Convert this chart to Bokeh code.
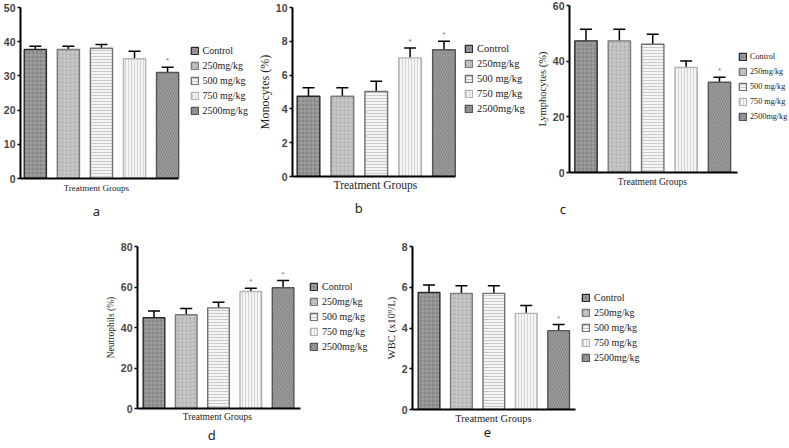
from bokeh.plotting import figure
from bokeh.layouts import column, row
from bokeh.models import (ColumnDataSource, Range1d, Whisker, TeeHead, Legend,
                          LegendItem, Title, FixedTicker, Spacer)
from bokeh.embed import file_html
from bokeh.resources import INLINE
from bokeh.core.properties import value, field

# ---------------- data ----------------
groups = ["Control", "250mg/kg", "500 mg/kg", "750 mg/kg", "2500mg/kg"]
x_label = "Treatment Groups"

a_mean = [37.7, 37.7, 38.1, 35.0, 31.0]
a_err = [1.0, 1.0, 1.1, 2.2, 1.5]
a_sig = [0, 0, 0, 0, 1]
a_ticks = [0, 10, 20, 30, 40, 50]
a_ylabel = ""

b_mean = [4.75, 4.75, 5.03, 7.02, 7.5]
b_err = [0.5, 0.5, 0.6, 0.58, 0.5]
b_sig = [0, 0, 0, 1, 1]
b_ticks = [0, 2, 4, 6, 8, 10]
b_ylabel = "Monocytes (%)"

c_mean = [47.3, 47.3, 46.1, 37.7, 32.4]
c_err = [4.2, 4.2, 3.6, 2.4, 1.8]
c_sig = [0, 0, 0, 0, 1]
c_ticks = [0, 20, 40, 60]
c_ylabel = "Lymphocytes (%)"

d_mean = [44.8, 46.3, 49.7, 57.8, 59.6]
d_err = [3.3, 3.1, 2.8, 1.6, 3.6]
d_sig = [0, 0, 0, 1, 1]
d_ticks = [0, 20, 40, 60, 80]
d_ylabel = "Neutrophils (%)"

e_mean = [5.74, 5.7, 5.7, 4.72, 3.87]
e_err = [0.37, 0.37, 0.37, 0.38, 0.3]
e_sig = [0, 0, 0, 0, 1]
e_ticks = [0, 2, 4, 6, 8]
e_ylabel = "WBC (x10\u2079/L)"

# ---------------- styles ----------------
fills = ["#868686", "#c4c4c4", "#f4f4f4", "#f5f5f5", "#9e9e9e"]
hatches = ["cross", "dot", "horizontal_line", "vertical_line", "right_diagonal_line"]
hatch_cols = ["#a4a4a4", "#a8a8a8", "#cacaca", "#d4d4d4", "#808080"]
hatch_scales = [4, 4, 3, 3, 5]
outlines = ["#2a2a2a", "#7a7a7a", "#707070", "#b4b4b4", "#555555"]

SERIF = "Liberation Serif"
SANS = "Liberation Sans"

TOP_ROW = (0, 236)
BOT_ROW = (236, 448)


def panel(mean, err, sig, ticks, ylabel, ylab_size, ylab_standoff, xlab_px,
          letter, fig_x, frame_x, row_y, frame_y, xr, leg_left, leg_first,
          leg_last, leg_font, tg_x, letter_x, s1, s2, leg_standoff=4):
    W = fig_x[1] - fig_x[0]
    H = row_y[1] - row_y[0]
    axis_px = frame_x[1] - frame_x[0]
    ppx = axis_px / (xr[1] - xr[0])
    x_end = xr[1] + (fig_x[1] - frame_x[1]) / ppx
    p = figure(width=W, height=H, output_backend="svg", toolbar_location=None,
               x_range=Range1d(xr[0], x_end),
               y_range=Range1d(ticks[0], ticks[-1]),
               min_border_left=frame_x[0] - fig_x[0],
               min_border_right=0,
               min_border_top=frame_y[0] - row_y[0],
               min_border_bottom=row_y[1] - frame_y[1])
    p.outline_line_color = None
    p.xgrid.visible = False
    p.ygrid.visible = False
    p.background_fill_color = "white"
    p.border_fill_color = "white"

    xs = list(range(1, len(groups) + 1))
    upper = [m + e for m, e in zip(mean, err)]
    src = ColumnDataSource(dict(x=xs, top=mean, upper=upper, fill=fills,
                                hatch=hatches, hc=hatch_cols, hs=hatch_scales,
                                line=outlines, label=groups))
    r = p.vbar(x="x", top="top", bottom=0, width=0.67, source=src,
               fill_color="fill", hatch_pattern=field("hatch"),
               hatch_color="hc", hatch_scale="hs", hatch_weight=1,
               line_color="line", line_width=1.4)

    wh = Whisker(source=src, base="x", upper="upper", lower="top",
                 dimension="height", line_color="black", line_width=1.5,
                 upper_head=TeeHead(size=12, line_color="black", line_width=1.5),
                 lower_head=None)
    p.add_layout(wh)

    sx = [x for x, s in zip(xs, sig) if s]
    sy = [u for u, s in zip(upper, sig) if s]
    if sx:
        p.text(x=sx, y=sy, text=["*"] * len(sx), text_align="center",
               text_baseline="bottom", y_offset=-2, text_font_size="8px",
               text_color="#777777", text_font=value(SANS))

    # axes
    p.yaxis.ticker = FixedTicker(ticks=ticks)
    p.yaxis.axis_line_width = 2
    p.yaxis.axis_line_color = "black"
    p.yaxis.major_tick_out = 3
    p.yaxis.major_tick_in = 0
    p.yaxis.major_tick_line_width = 1.5
    p.yaxis.minor_tick_line_color = None
    p.yaxis.major_label_text_font = SANS
    p.yaxis.major_label_text_font_style = "bold"
    p.yaxis.major_label_text_font_size = "10.5px"
    p.yaxis.major_label_standoff = 2
    if ylabel:
        p.yaxis.axis_label = ylabel
        p.yaxis.axis_label_text_font = SERIF
        p.yaxis.axis_label_text_font_style = "normal"
        p.yaxis.axis_label_text_font_size = ylab_size
        p.yaxis.axis_label_standoff = ylab_standoff
        p.yaxis.axis_label_text_color = "#222222"

    p.xaxis.bounds = (xr[0], xr[1])
    p.xaxis.ticker = FixedTicker(ticks=[])
    p.xaxis.axis_line_width = 2
    p.xaxis.axis_line_color = "black"
    p.xaxis.major_tick_out = 0
    p.xaxis.major_tick_in = 0
    p.xaxis.minor_tick_line_color = None
    p.xaxis.major_label_standoff = 0
    p.xaxis.major_label_text_font_size = "0px"

    # x-axis caption, centred under the axis span
    tg_w = 7.3 * xlab_px
    t1 = Title(text=x_label, align="left",
               offset=tg_x - frame_x[0] - tg_w / 2.0,
               text_font=SERIF, text_font_size=f"{xlab_px}px",
               text_font_style="normal", text_color="#222222", standoff=s1)
    p.add_layout(t1, "below")

    # legend (inside the extended frame, right of the bars)
    item_h = 12
    pitch = (leg_last - leg_first) / 4.0
    items = [LegendItem(label=g, renderers=[r], index=i) for i, g in enumerate(groups)]
    dx = leg_left - frame_x[0]
    dy = frame_y[1] - leg_last - item_h / 2.0
    leg = Legend(items=items, location=(dx, dy), glyph_width=9, glyph_height=9,
                 label_height=item_h, label_standoff=leg_standoff,
                 spacing=max(0, int(round(pitch - item_h))), padding=0, margin=0,
                 border_line_color=None, background_fill_alpha=0,
                 label_text_font=SERIF, label_text_font_size=leg_font,
                 label_text_color="#222222")
    p.add_layout(leg)

    # panel letter
    t2 = Title(text=letter, align="left", offset=letter_x - frame_x[0] - 3.8,
               text_font="Noto Sans", text_font_size="13px",
               text_font_style="normal", text_color="#222222", standoff=s2)
    p.add_layout(t2, "below")
    return p


pa = panel(a_mean, a_err, a_sig, a_ticks, a_ylabel, "11px", 3, 9, "a",
           (0, 250), (17, 177), TOP_ROW, (7, 178), (0.552, 5.328),
           186.5, 50, 110, "10px", 93, 93, 5, 9)
pb = panel(b_mean, b_err, b_sig, b_ticks, b_ylabel, "12px", 1, 11.5, "b",
           (250, 526), (292, 455), TOP_ROW, (7, 176), (0.528, 5.34),
           464, 47, 108, "10.5px", 375, 358, 1, 10)
pc = panel(c_mean, c_err, c_sig, c_ticks, c_ylabel, "10.5px", 2, 9.5, "c",
           (526, 789), (569, 737), TOP_ROW, (5, 172), (0.506, 5.54),
           738, 56, 116, "8.2px", 652, 563, 5, 16, leg_standoff=3)
pd = panel(d_mean, d_err, d_sig, d_ticks, d_ylabel, "9.5px", 2, 9.5, "d",
           (60, 372), (137, 300), BOT_ROW, (246, 408), (0.489, 5.54),
           309, 287, 346, "10px", 217, 211, 3, 0)
pe = panel(e_mean, e_err, e_sig, e_ticks, e_ylabel, "10.5px", 2, 10.5, "e",
           (372, 789), (412, 575), BOT_ROW, (246, 409), (0.49, 5.52),
           581, 296, 357, "10px", 493, 487, 3, 0)

# each panel in its own column so that the row does not align their frames
top = row(column(pa), column(pb), column(pc))
bottom = row(Spacer(width=60, height=BOT_ROW[1] - BOT_ROW[0]), column(pd), column(pe))
layout = column(top, bottom)

open("out.html", "w").write(file_html(layout, INLINE))
